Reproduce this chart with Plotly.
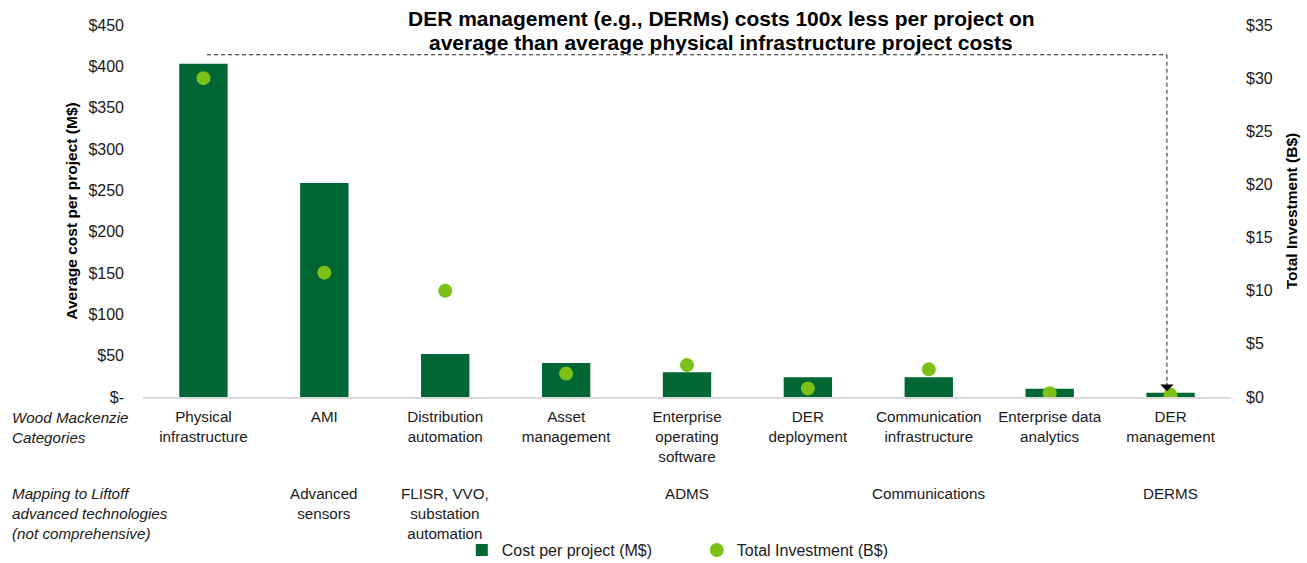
import plotly.graph_objects as go

categories = ["Physical<br>infrastructure", "AMI", "Distribution<br>automation",
              "Asset<br>management", "Enterprise<br>operating<br>software",
              "DER<br>deployment", "Communication<br>infrastructure",
              "Enterprise data<br>analytics", "DER<br>management"]
mapping = ["", "Advanced<br>sensors", "FLISR, VVO,<br>substation<br>automation", "",
           "ADMS", "", "Communications", "", "DERMS"]
cost_per_project = [403, 259, 52, 41, 30, 24, 24, 10, 5]
total_investment = [30.0, 11.7, 10.0, 2.2, 3.0, 0.8, 2.6, 0.35, 0.2]

left_tickvals = [0, 50, 100, 150, 200, 250, 300, 350, 400, 450]
left_ticktext = ["$-", "$50", "$100", "$150", "$200", "$250", "$300", "$350", "$400", "$450"]
right_tickvals = [0, 5, 10, 15, 20, 25, 30, 35]
right_ticktext = ["$0", "$5", "$10", "$15", "$20", "$25", "$30", "$35"]

title_lines = ["DER management (e.g., DERMs) costs 100x less per project on",
               "average than average physical infrastructure project costs"]

BAR = "#006633"
DOT = "#7CC118"
TXT = "#1a1a1a"
FONT = "Liberation Sans, Arial, sans-serif"
LBL = 15.2

xs = list(range(len(categories)))

fig = go.Figure()
fig.add_trace(go.Bar(x=xs, y=cost_per_project, name="Cost per project (M$)",
                     marker=dict(color=BAR, line=dict(width=0)), width=0.4))
fig.add_trace(go.Scatter(x=xs, y=total_investment, name="Total Investment (B$)",
                         mode="markers", yaxis="y2",
                         marker=dict(color=DOT, size=14, line=dict(width=0))))

# dashed connector from tallest to smallest bar
top_y = max(cost_per_project) + 11
first_i, last_i = xs[0], xs[-1]
fig.add_shape(type="line", xref="x", yref="y", x0=first_i + 0.03, x1=last_i - 0.03,
              y0=top_y, y1=top_y, line=dict(color="#222222", width=1, dash="4px,3px"))
fig.add_shape(type="line", xref="x", yref="y", x0=last_i - 0.03, x1=last_i - 0.03,
              y0=top_y, y1=cost_per_project[-1] + 13,
              line=dict(color="#222222", width=1, dash="4px,3px"))
fig.add_annotation(x=last_i - 0.03, y=cost_per_project[-1] + 2, ax=last_i - 0.03,
                   ay=cost_per_project[-1] + 14, xref="x", yref="y", axref="x", ayref="y",
                   showarrow=True, arrowhead=1, arrowsize=2.2, arrowwidth=1,
                   arrowcolor="#000000", text="")

# title (two lines)
for k, (line, px) in enumerate(zip(title_lines, [18, 43])):
    fig.add_annotation(text="<b>" + line + "</b>", xref="paper", yref="paper",
                       x=(721 - 143) / 1088, y=(397.5 - px) / 372.5, yanchor="middle",
                       showarrow=False, font=dict(size=21, color="#000000", family=FONT))

# mapping row
for i, m in zip(xs, mapping):
    if m:
        fig.add_annotation(text=m, x=i, xref="x", yref="paper", y=-0.231, yanchor="top",
                           showarrow=False, font=dict(size=LBL, color=TXT, family=FONT))

# row headers
fig.add_annotation(text="<i>Wood Mackenzie<br>Categories</i>", xref="paper", yref="paper",
                   x=-0.1222, xanchor="left", align="left", y=-0.026, yanchor="top",
                   showarrow=False, font=dict(size=LBL, color=TXT, family=FONT))
fig.add_annotation(text="<i>Mapping to Liftoff<br>advanced technologies<br>(not comprehensive)</i>",
                   xref="paper", yref="paper", x=-0.1222, xanchor="left", align="left",
                   y=-0.231, yanchor="top",
                   showarrow=False, font=dict(size=LBL, color=TXT, family=FONT))

fig.update_layout(
    width=1307, height=563,
    margin=dict(l=143, r=76, t=25, b=165.5, autoexpand=False),
    plot_bgcolor="white", paper_bgcolor="white",
    font=dict(family=FONT, size=LBL, color=TXT),
    showlegend=True,
    legend=dict(orientation="h", x=0.509, xanchor="center", y=-0.4115, yanchor="middle",
                font=dict(size=16, color=TXT), itemwidth=30, entrywidth=190,
                entrywidthmode="pixels", bgcolor="rgba(0,0,0,0)"),
    xaxis=dict(range=[-0.5, len(categories) - 0.5], tickvals=xs, ticktext=categories,
               showgrid=False, zeroline=False, showline=True, linecolor="#d9d9d9",
               linewidth=1.5, ticks="", tickfont=dict(size=LBL, color=TXT),
               ticklabelstandoff=5),
    yaxis=dict(range=[0, 450], tickvals=left_tickvals, ticktext=left_ticktext,
               showgrid=False, zeroline=False, showline=False, ticks="",
               tickfont=dict(size=16, color=TXT), ticklabelstandoff=18,
               title=dict(text="<b>Average cost per project (M$)</b>",
                          font=dict(size=15.5, color="#000000"), standoff=6)),
    yaxis2=dict(range=[0, 35], tickvals=right_tickvals, ticktext=right_ticktext,
                overlaying="y", side="right", showgrid=False, zeroline=False,
                showline=False, ticks="", tickfont=dict(size=16, color=TXT),
                ticklabelstandoff=14,
                title=dict(text="<b>Total Investment (B$)</b>",
                           font=dict(size=15.5, color="#000000"), standoff=14)),
)

fig.write_html("out.html", config={"displayModeBar": False},
               post_script="document.body.style.margin='0';")
